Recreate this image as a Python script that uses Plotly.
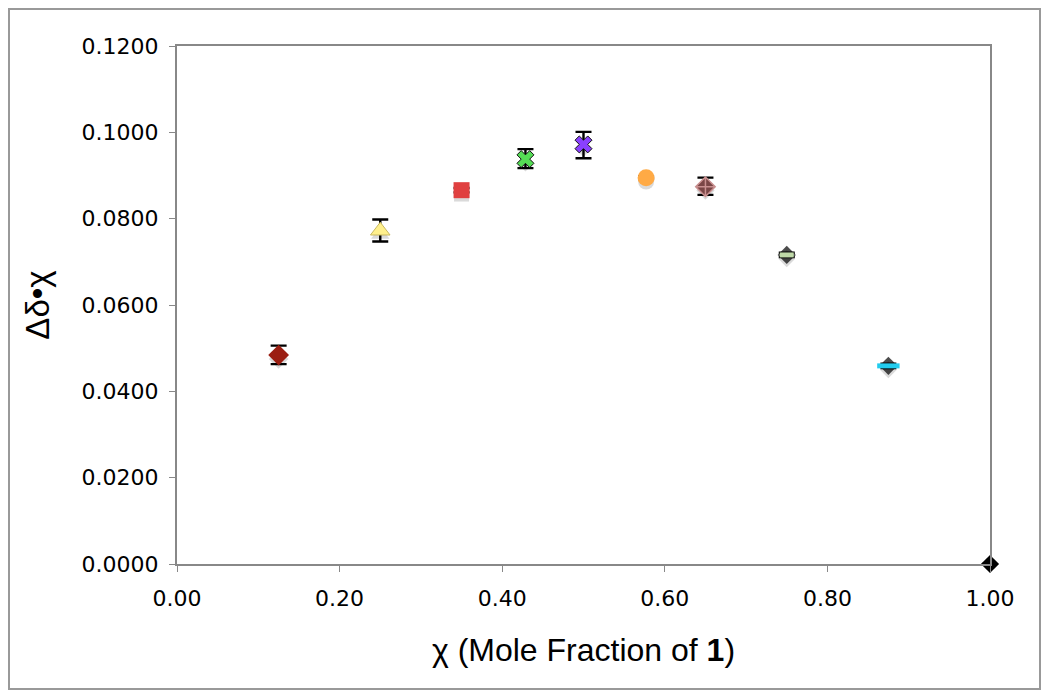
import plotly.graph_objects as go

x_vals = [0.125, 0.25, 0.35, 0.4286, 0.50, 0.577, 0.65, 0.75, 0.875, 1.00]
y_vals = [0.0484, 0.0772, 0.0866, 0.0938, 0.0972, 0.0895, 0.0874, 0.0716, 0.0459, 0.0000]
err_plus = [0.0022, 0.0026, 0.0005, 0.0023, 0.0029, 0.0003, 0.0021, 0.0005, 0.0005, 0.0]
err_minus = [0.0021, 0.0025, 0.0005, 0.0021, 0.0032, 0.0003, 0.0019, 0.0005, 0.0005, 0.0]
colors = ["#9B1E12", "#FFF08C", "#E04040", "#55DD55", "#8A40FF", "#FFAA45", "#7A4646", "#BFD9A8", "#22CCEE", "#000000"]
symbols = ["diamond", "triangle-up", "square", "x", "x", "circle", "diamond-cross", "line-ew-open", "line-ew-open", "diamond"]
line_colors = ["#9B1E12", "#C8B860", "#E04040", "#111111", "#111111", "#FFAA45", "#C99090", "#BFD9A8", "#22CCEE", "#000000"]
line_widths = [0, 1, 0, 1, 1, 0, 1.5, 5, 5, 0]
sizes = [16, 17, 16, 15, 15, 17, 15, 10, 16, 14]
# points drawn with a black diamond underneath the coloured bar
underlay_idx = [7, 8]

x_ticks = [0.0, 0.2, 0.4, 0.6, 0.8, 1.0]
y_ticks = [0.0, 0.02, 0.04, 0.06, 0.08, 0.10, 0.12]

fig = go.Figure()

# soft grey shadows below markers
shadow_offset = 0.0009
fig.add_trace(go.Scatter(
    x=x_vals, y=[v - shadow_offset for v in y_vals], mode="markers",
    marker=dict(symbol=["diamond", "triangle-up", "square", "diamond", "diamond", "circle",
                        "diamond", "diamond", "diamond", "diamond"],
                size=[15, 16, 15, 13, 13, 16, 14, 13, 13, 0],
                color="rgba(150,150,150,0.5)", line=dict(width=0)),
    hoverinfo="skip", showlegend=False, cliponaxis=False))

fig.add_trace(go.Scatter(
    x=[x_vals[i] for i in underlay_idx], y=[y_vals[i] for i in underlay_idx], mode="markers",
    marker=dict(symbol="diamond", size=[14, 14], color="#000000", line=dict(width=0)),
    hoverinfo="skip", showlegend=False, cliponaxis=False))

fig.add_trace(go.Scatter(
    x=x_vals, y=y_vals, mode="markers",
    marker=dict(symbol=symbols, size=sizes, color=colors, opacity=1,
                line=dict(color=line_colors, width=line_widths)),
    error_y=dict(type="data", array=err_plus, arrayminus=err_minus,
                 color="#000000", thickness=2.4, width=8),
    showlegend=False, cliponaxis=False))

fig.update_layout(
    width=1050, height=698,
    paper_bgcolor="white", plot_bgcolor="white",
    margin=dict(l=169, r=68, t=38, b=142),
    font=dict(family="DejaVu Sans", color="#000000"),
    xaxis=dict(range=[0, 1.0], tickvals=x_ticks, ticktext=[f"{t:.2f}" for t in x_ticks],
               showgrid=False, zeroline=False, showline=True, linecolor="#888888", linewidth=2,
               mirror=True, ticks="outside", ticklen=6, tickcolor="#888888",
               ticklabelstandoff=8,
               tickfont=dict(family="DejaVu Sans", size=22),
               title=dict(text="χ (Mole Fraction of <b>1</b>)",
                          font=dict(family="Liberation Sans", size=32), standoff=28)),
    yaxis=dict(range=[0, 0.12], tickvals=y_ticks, ticktext=[f"{t:.4f}" for t in y_ticks],
               showgrid=False, zeroline=False, showline=True, linecolor="#888888", linewidth=2,
               mirror=True, ticks="outside", ticklen=6, tickcolor="#888888",
               ticklabelstandoff=6,
               tickfont=dict(family="DejaVu Sans", size=22),
               title=dict(text="Δδ•χ", font=dict(family="Liberation Sans", size=33), standoff=22)),
    shapes=[dict(type="rect", xref="paper", yref="paper",
                 x0=(9 - 177) / 813, x1=(1040 - 177) / 813,
                 y0=-(689 - 564) / 518, y1=1 + (46 - 9) / 518,
                 line=dict(color="#999999", width=2), fillcolor="rgba(0,0,0,0)", layer="below")],
)

fig.write_html("out.html")
